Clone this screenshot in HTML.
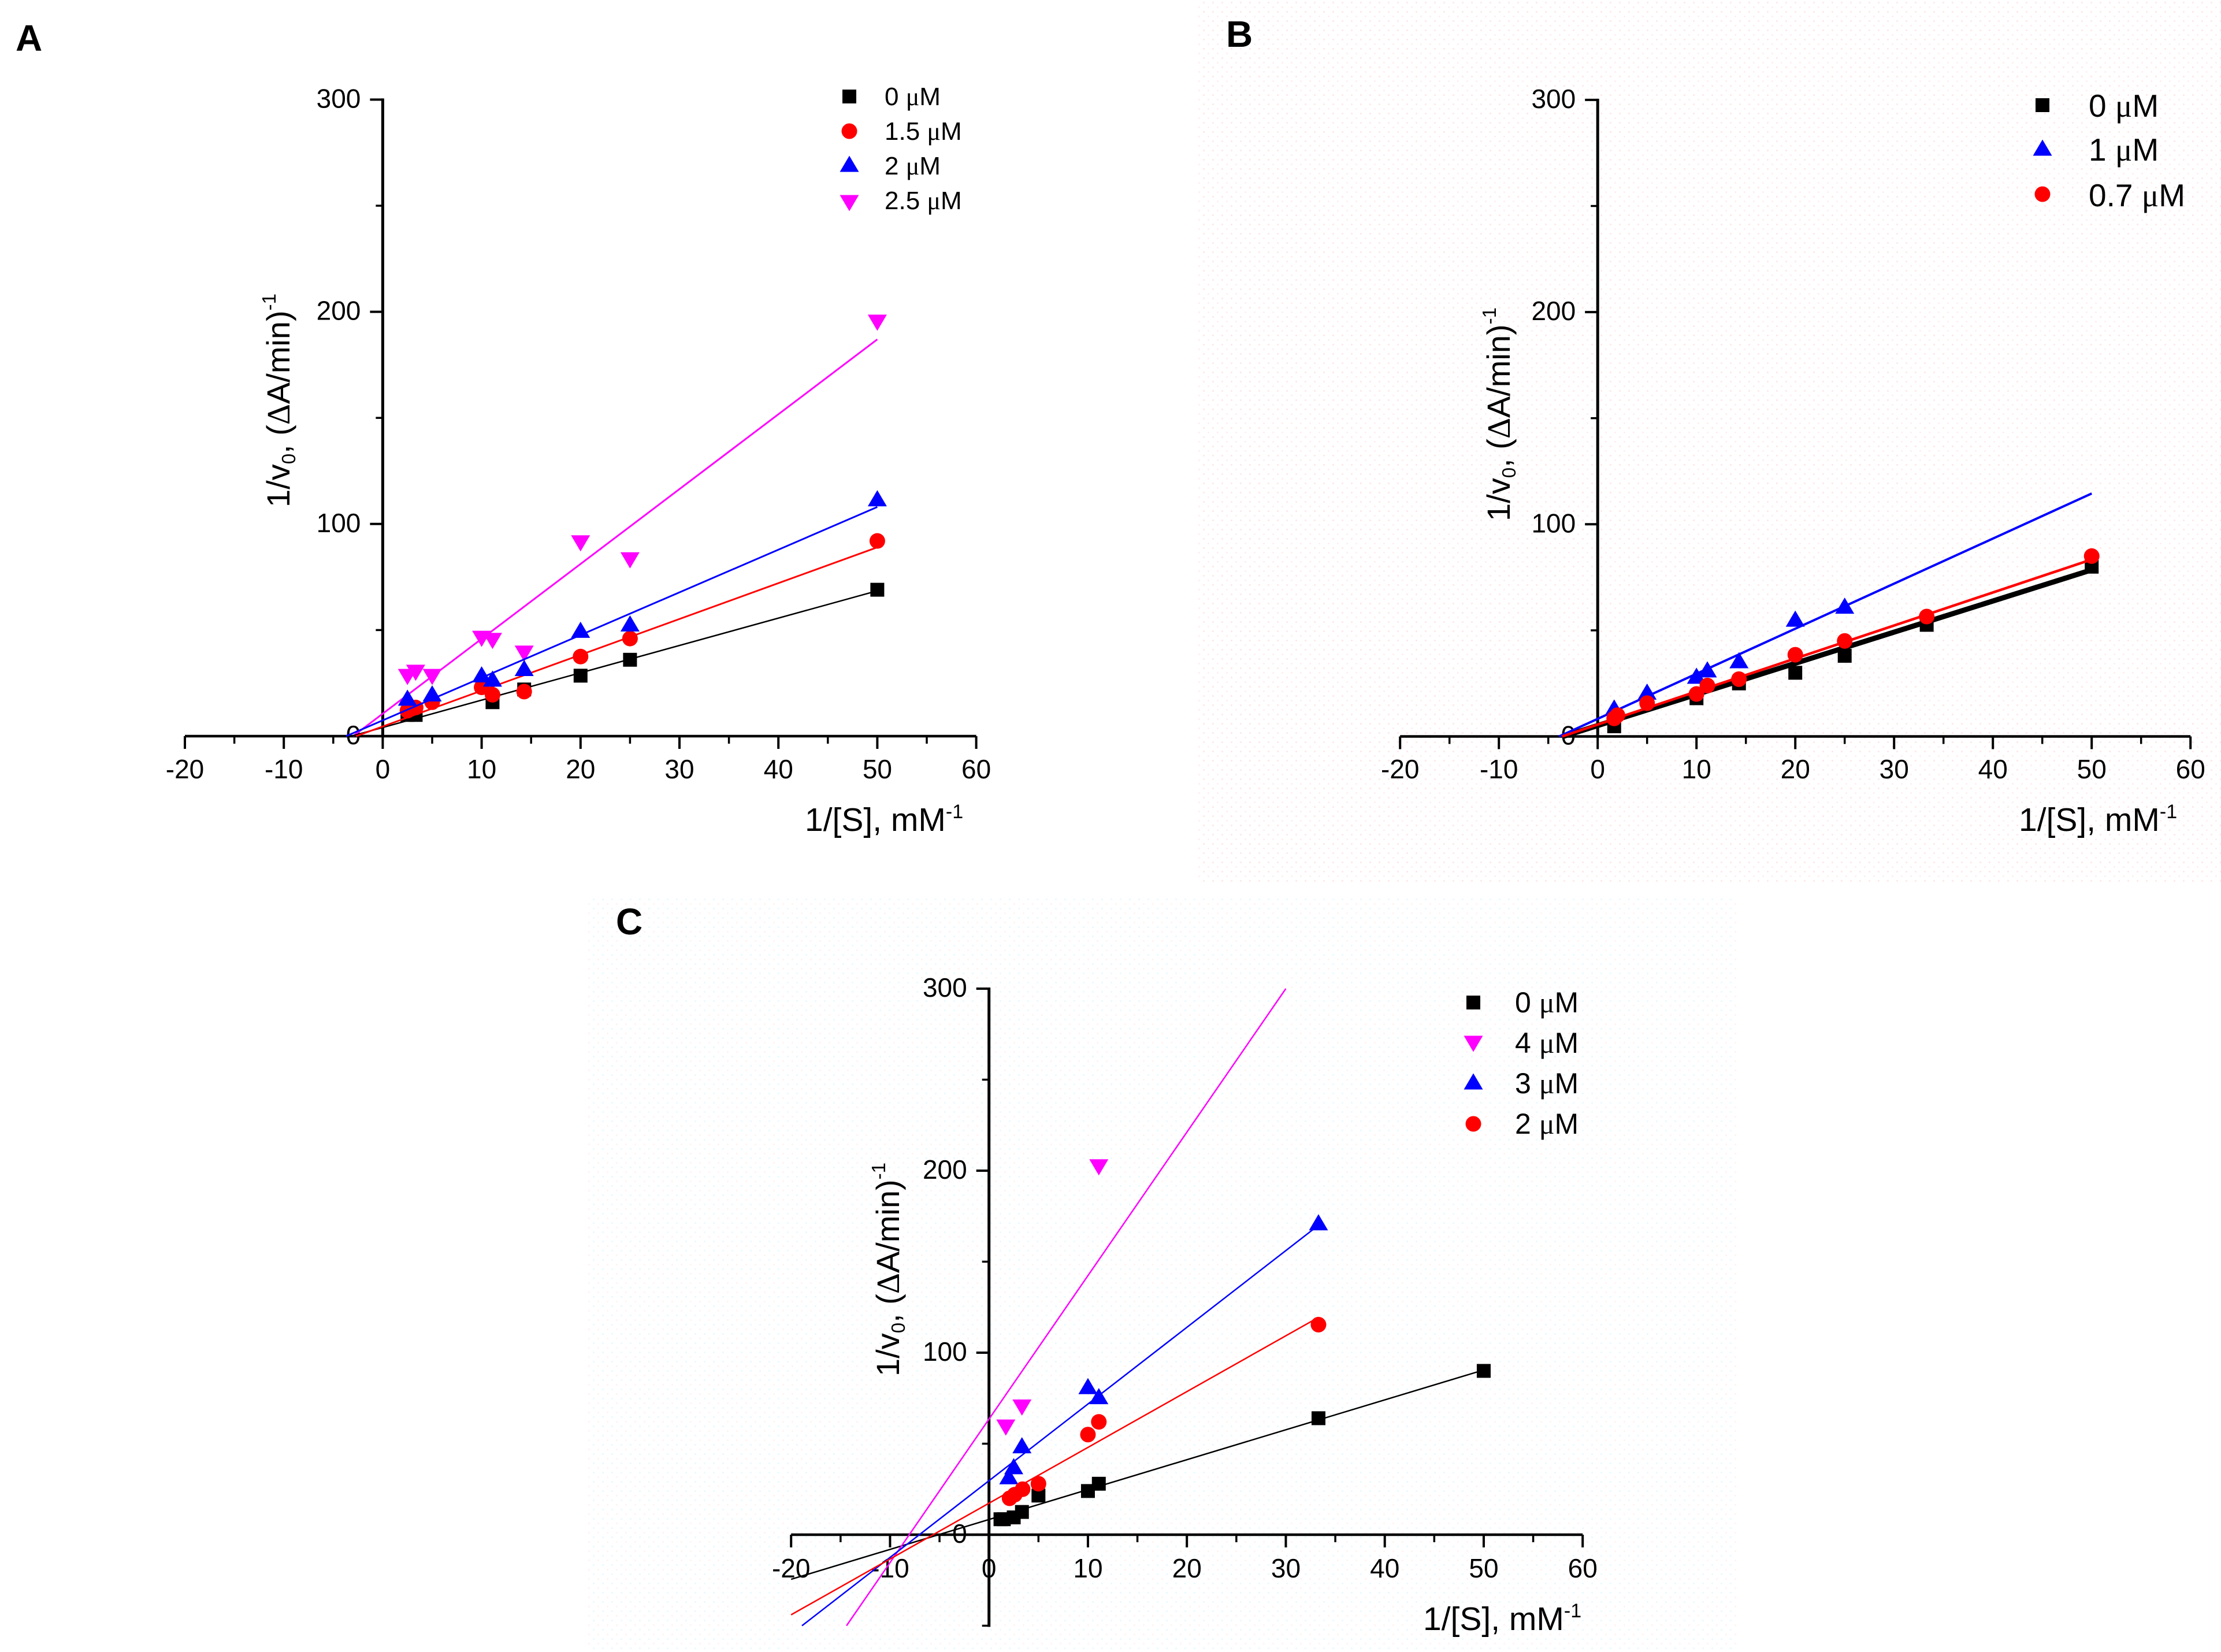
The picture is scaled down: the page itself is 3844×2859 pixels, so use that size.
<!DOCTYPE html>
<html lang="en">
<head>
<meta charset="utf-8">
<title>Lineweaver-Burk plots A, B, C</title>
<style>
html,body{margin:0;padding:0;background:#fff;}
svg{display:block;font-family:"Liberation Sans",Arial,sans-serif;fill:#000;}
.um{font-family:"Liberation Serif",serif;}
</style>
</head>
<body>
<svg id="chart" xmlns="http://www.w3.org/2000/svg" width="3844" height="2859" viewBox="0 0 3844 2859">
  <defs>
    <pattern id="dots-b" width="16" height="16" patternUnits="userSpaceOnUse">
      <rect x="2" y="3" width="3" height="3" fill="#ffeaea"/>
      <rect x="10" y="11" width="3" height="3" fill="#fff0f0"/>
    </pattern>
    <pattern id="dots-c" width="16" height="16" patternUnits="userSpaceOnUse">
      <rect x="2" y="3" width="3" height="3" fill="#eafaff"/>
      <rect x="10" y="11" width="3" height="3" fill="#fff4f4"/>
    </pattern>
  </defs>
  <rect x="0" y="0" width="3844" height="2859" fill="#ffffff"/>
  <rect x="2072" y="0" width="1772" height="1530" fill="url(#dots-b)"/>
  <rect x="1018" y="1552" width="1992" height="1307" fill="url(#dots-c)"/>

  <text x="27" y="88" font-size="64" font-weight="bold">A</text>
  <text x="2122" y="81" font-size="64" font-weight="bold">B</text>
  <text x="1066" y="1617" font-size="64" font-weight="bold">C</text>

  <text x="1393" y="1438" font-size="57">1/[S], mM<tspan font-size="34" dy="-22">-1</tspan></text>
  <text x="3494" y="1438" font-size="57">1/[S], mM<tspan font-size="34" dy="-22">-1</tspan></text>
  <text x="2463" y="2821" font-size="57">1/[S], mM<tspan font-size="34" dy="-22">-1</tspan></text>

  <text transform="translate(501,878) rotate(-90)" font-size="56">1/v<tspan font-size="33" dy="10">0</tspan><tspan dy="-10">, (</tspan><tspan class="um">Δ</tspan>A/min)<tspan font-size="33" dy="-24">-1</tspan></text>
  <text transform="translate(2613,902) rotate(-90)" font-size="56">1/v<tspan font-size="33" dy="10">0</tspan><tspan dy="-10">, (</tspan><tspan class="um">Δ</tspan>A/min)<tspan font-size="33" dy="-24">-1</tspan></text>
  <text transform="translate(1556,2382) rotate(-90)" font-size="56">1/v<tspan font-size="33" dy="10">0</tspan><tspan dy="-10">, (</tspan><tspan class="um">Δ</tspan>A/min)<tspan font-size="33" dy="-24">-1</tspan></text>
</svg>
<script>
// Shared tick values
const xTickValues = [-20, -10, 0, 10, 20, 30, 40, 50, 60];
const xMinorTickValues = [-15, -5, 5, 15, 25, 35, 45, 55];
const yTickValues = [0, 100, 200, 300];
const yMinorTickValues = [50, 150, 250];
const yMinorTickValuesC = [-50, 50, 150, 250];

// Panel A data
const aBlackX = [2.5, 3.33, 11.1, 14.3, 20, 25, 50];
const aBlackY = [10, 10, 16, 22, 28.5, 36, 69];
const aBlackFitX = [-3.18, 50];
const aBlackFitY = [0, 68.5];
const aRedX = [2.5, 3.33, 5, 10, 11.1, 14.3, 20, 25, 50];
const aRedY = [12, 13.5, 16, 23, 19.5, 21, 37.5, 46, 92];
const aRedFitX = [-2.7, 50];
const aRedFitY = [0, 89];
const aBlueX = [2.5, 5, 10, 11.1, 14.3, 20, 25, 50];
const aBlueY = [18, 20, 29, 27, 32, 50, 53, 112];
const aBlueFitX = [-3.7, 50];
const aBlueFitY = [0, 108];
const aMagentaX = [2.5, 3.33, 5, 10, 11.1, 14.3, 20, 25, 50];
const aMagentaY = [28, 30, 28, 46, 45, 39, 91, 83, 195];
const aMagentaFitX = [-3, 50];
const aMagentaFitY = [0, 187];
const aLegendLabels = ['0 ', '1.5 ', '2 ', '2.5 '];

// Panel B data
const bBlackX = [1.67, 10, 14.3, 20, 25, 33.3, 50];
const bBlackY = [4.8, 18, 25, 30, 38, 52.6, 80];
const bBlackFitX = [-3.5, 50];
const bBlackFitY = [0, 78.5];
const bBlueX = [1.67, 5, 10, 11.1, 14.3, 20, 25];
const bBlueY = [13.5, 21, 28.5, 31.5, 35.8, 55.4, 61.5];
const bBlueFitX = [-3.9, 50];
const bBlueFitY = [0, 114.5];
const bRedX = [1.67, 2, 5, 10, 11.1, 14.3, 20, 25, 33.3, 50];
const bRedY = [8.5, 10, 15.7, 20, 24, 27, 38.5, 45, 56.5, 85];
const bRedFitX = [-3.6, 50];
const bRedFitY = [0, 83.4];
const bLegendLabels = ['0 ', '1 ', '0.7 '];

// Panel C data
const cBlackX = [1.16, 1.5, 2.5, 3.33, 5, 10, 11.1, 33.3, 50];
const cBlackY = [8.5, 8.5, 9.5, 12.5, 21.5, 24, 28, 64, 90];
const cBlackFitX = [-20, 50];
const cBlackFitY = [-24.5, 90.5];
const cMagentaX = [1.7, 3.33, 11.1];
const cMagentaY = [59, 70, 202];
const cMagentaFitX = [-14.4, 30];
const cMagentaFitY = [-50, 300];
const cBlueX = [2, 2.5, 3.33, 10, 11.1, 33.3];
const cBlueY = [32, 37.5, 49, 81.5, 76, 171.5];
const cBlueFitX = [-18.9, 33.3];
const cBlueFitY = [-50, 170];
const cRedX = [2.08, 2.6, 3.4, 5, 10, 11.1, 33.3];
const cRedY = [20, 22, 25, 28, 55, 62, 115.4];
const cRedFitX = [-20, 33.3];
const cRedFitY = [-44, 119.4];
const cLegendLabels = ['0 ', '4 ', '3 ', '2 '];

const svg = document.getElementById('chart');
const NS = 'http://www.w3.org/2000/svg';

function make(tag, attrs, parent) {
  const el = document.createElementNS(NS, tag);
  for (const k in attrs) el.setAttribute(k, attrs[k]);
  (parent || svg).appendChild(el);
  return el;
}

function drawMarker(kind, cx, cy, color, parent, name) {
  let el;
  if (kind === 'square') {
    el = make('rect', {x: cx - 12, y: cy - 12, width: 24, height: 24, fill: color}, parent);
  } else if (kind === 'circle') {
    el = make('circle', {cx: cx, cy: cy, r: 13.5, fill: color}, parent);
  } else if (kind === 'up') {
    el = make('polygon', {points: (cx - 16.5) + ',' + (cy + 13.5) + ' ' + (cx + 16.5) + ',' + (cy + 13.5) + ' ' + cx + ',' + (cy - 14.5), fill: color}, parent);
  } else {
    el = make('polygon', {points: (cx - 16.5) + ',' + (cy - 13.5) + ' ' + (cx + 16.5) + ',' + (cy - 13.5) + ' ' + cx + ',' + (cy + 14.5), fill: color}, parent);
  }
  
  
  return el;
}

function drawPanel(p) {
  const sx = v => p.x0 + v * p.xUnit;
  const sy = v => p.y0 - v * p.yUnit;

  const axes = make('g', {});
  
  

  const xAxis = make('line', {x1: sx(-20), x2: sx(60), y1: sy(0), y2: sy(0), stroke: '#000', 'stroke-width': 4.5}, axes);
  
  
  const yAxis = make('line', {x1: sx(0), x2: sx(0), y1: sy(300) - 2, y2: sy(p.yMin) + 2, stroke: '#000', 'stroke-width': 5}, axes);
  
  

  xTickValues.forEach(v => {
    const t = make('line', {x1: sx(v), x2: sx(v), y1: sy(0), y2: sy(0) + 22, stroke: '#000', 'stroke-width': 4}, axes);
    
    
    const l = make('text', {x: sx(v), y: p.xLabelY, 'font-size': 46, 'text-anchor': 'middle'}, axes);
    l.textContent = String(v);
    
    
  });
  xMinorTickValues.forEach(v => {
    const t = make('line', {x1: sx(v), x2: sx(v), y1: sy(0), y2: sy(0) + 13, stroke: '#000', 'stroke-width': 3.5}, axes);
    
    
  });
  yTickValues.forEach(v => {
    const t = make('line', {x1: sx(0) - 22, x2: sx(0), y1: sy(v), y2: sy(v), stroke: '#000', 'stroke-width': 4}, axes);
    
    
    const l = make('text', {x: sx(0) - 38, y: sy(v) + 14, 'font-size': 46, 'text-anchor': 'end'}, axes);
    l.textContent = String(v);
    
    
  });
  p.yMinor.forEach(v => {
    const t = make('line', {x1: sx(0) - 12, x2: sx(0), y1: sy(v), y2: sy(v), stroke: '#000', 'stroke-width': 3.5}, axes);
    
    
  });

  p.series.forEach(s => {
    const g = make('g', {});
    
    
    const fit = make('line', {x1: sx(s.fitX[0]), y1: sy(s.fitY[0]), x2: sx(s.fitX[1]), y2: sy(s.fitY[1]), stroke: s.color, 'stroke-width': s.width}, g);
    
    
    s.x.forEach((xv, i) => {
      drawMarker(s.marker, sx(xv), sy(s.y[i]), s.color, g, p.id + '-point-' + s.key);
    });
  });

  const legend = make('g', {});
  
  
  p.legend.labels.forEach((label, i) => {
    const s = p.legend.entries[i];
    const entry = make('g', {}, legend);
    
    
    drawMarker(s.marker, p.legend.markerX, p.legend.markerYs[i], s.color, entry, p.id + '-legend-marker');
    const t = make('text', {x: p.legend.textX, y: p.legend.baselines[i], 'font-size': p.legend.size}, entry);
    t.appendChild(document.createTextNode(label));
    const u = make('tspan', {class: 'um'}, t);
    u.textContent = 'μ';
    t.appendChild(document.createTextNode('M'));
    
    
  });
}

const black = '#000000', red = '#ff0000', blue = '#0000ff', magenta = '#ff00ff';

const aSeries = {
  black: {key: '0-um', x: aBlackX, y: aBlackY, fitX: aBlackFitX, fitY: aBlackFitY, color: '#000', marker: 'square', width: 2.5},
  red: {key: '1-5-um', x: aRedX, y: aRedY, fitX: aRedFitX, fitY: aRedFitY, color: red, marker: 'circle', width: 3},
  blue: {key: '2-um', x: aBlueX, y: aBlueY, fitX: aBlueFitX, fitY: aBlueFitY, color: blue, marker: 'up', width: 3},
  magenta: {key: '2-5-um', x: aMagentaX, y: aMagentaY, fitX: aMagentaFitX, fitY: aMagentaFitY, color: magenta, marker: 'down', width: 3}
};
drawPanel({
  id: 'panel-a', x0: 662.4, y0: 1274, xUnit: 17.12, yUnit: 3.672, yMin: 0, yMinor: yMinorTickValues, xLabelY: 1347,
  series: [aSeries.magenta, aSeries.black, aSeries.red, aSeries.blue],
  legend: {labels: aLegendLabels, entries: [aSeries.black, aSeries.red, aSeries.blue, aSeries.magenta], markerYs: [167, 227, 284, 351], baselines: [182, 242, 302, 362], markerX: 1470, textX: 1531, size: 44}
});

const bSeries = {
  black: {key: '0-um', x: bBlackX, y: bBlackY, fitX: bBlackFitX, fitY: bBlackFitY, color: black, marker: 'square', width: 9},
  blue: {key: '1-um', x: bBlueX, y: bBlueY, fitX: bBlueFitX, fitY: bBlueFitY, color: blue, marker: 'up', width: 4},
  red: {key: '0-7-um', x: bRedX, y: bRedY, fitX: bRedFitX, fitY: bRedFitY, color: red, marker: 'circle', width: 4.5}
};
drawPanel({
  id: 'panel-b', x0: 2765.2, y0: 1274.5, xUnit: 17.1, yUnit: 3.672, yMin: 0, yMinor: yMinorTickValues, xLabelY: 1347,
  series: [bSeries.black, bSeries.blue, bSeries.red],
  legend: {labels: bLegendLabels, entries: [bSeries.black, bSeries.blue, bSeries.red], markerYs: [182, 256, 336], baselines: [202, 278, 357], markerX: 3535, textX: 3615, size: 55}
});

const cSeries = {
  black: {key: '0-um', x: cBlackX, y: cBlackY, fitX: cBlackFitX, fitY: cBlackFitY, color: black, marker: 'square', width: 2.5},
  magenta: {key: '4-um', x: cMagentaX, y: cMagentaY, fitX: cMagentaFitX, fitY: cMagentaFitY, color: magenta, marker: 'down', width: 2.5},
  blue: {key: '3-um', x: cBlueX, y: cBlueY, fitX: cBlueFitX, fitY: cBlueFitY, color: blue, marker: 'up', width: 2.5},
  red: {key: '2-um', x: cRedX, y: cRedY, fitX: cRedFitX, fitY: cRedFitY, color: red, marker: 'circle', width: 2.5}
};
drawPanel({
  id: 'panel-c', x0: 1711.7, y0: 2656, xUnit: 17.125, yUnit: 3.15, yMin: -50, yMinor: yMinorTickValuesC, xLabelY: 2730,
  series: [cSeries.black, cSeries.magenta, cSeries.blue, cSeries.red],
  legend: {labels: cLegendLabels, entries: [cSeries.black, cSeries.magenta, cSeries.blue, cSeries.red], markerYs: [1735, 1806, 1872, 1945], baselines: [1752, 1822, 1892, 1962], markerX: 2550, textX: 2622, size: 50}
});
</script>
</body>
</html>
